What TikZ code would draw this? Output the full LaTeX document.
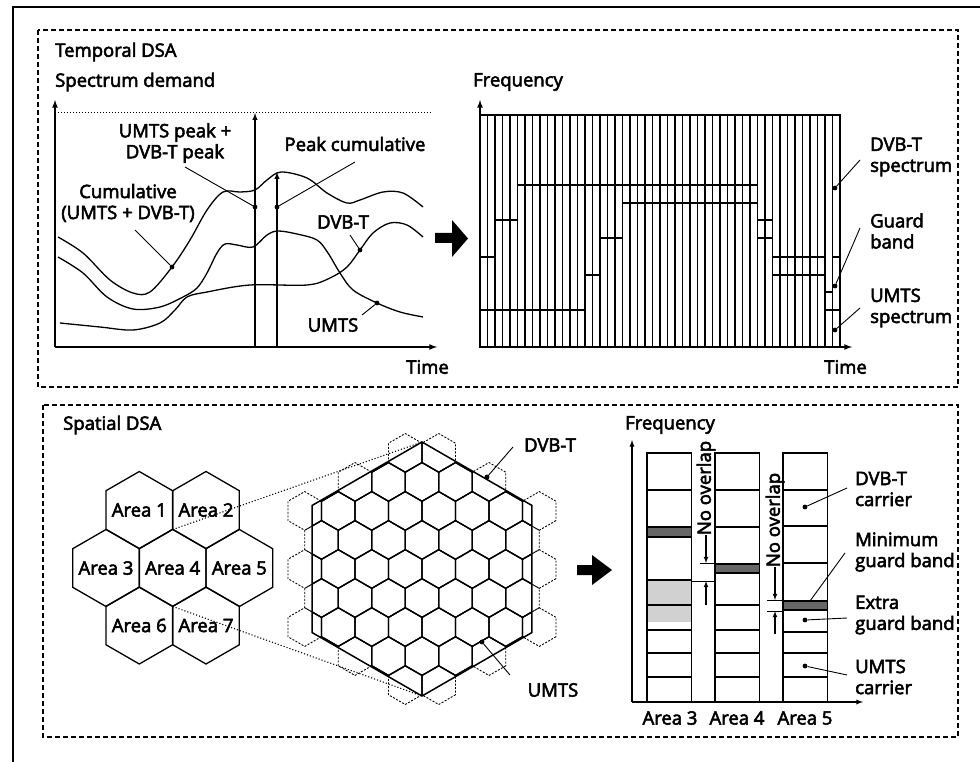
\documentclass[tikz,border=0pt]{standalone}
\usepackage{fontspec}
\setmainfont{Open Sans}[FakeBold=3]
\tikzset{
  lbl/.style={font=\fontsize{18.5}{21}\selectfont, inner sep=0pt},
  lbltwo/.style={lbl, align=left},
  dotnode/.style={circle, fill, inner sep=1.7pt},
  axis/.style={->, line width=1.6pt},
  crv/.style={line width=1.3pt},
  lead/.style={line width=0.9pt},
  panel/.style={line width=1.1pt, dash pattern=on 5pt off 3pt},
  stripe/.style={line width=1.2pt},
  cellout/.style={line width=0.9pt, dash pattern=on 2pt off 1.5pt},
  cellin/.style={line width=1.3pt},
  hexcell/.pic={\draw[pic actions] (30:#1) -- (90:#1) -- (150:#1) -- (210:#1) -- (270:#1) -- (330:#1) -- cycle;}
}
\begin{document}
\begin{tikzpicture}[x=1pt, y=-1pt, >=latex]
\useasboundingbox (0,0) rectangle (980,762);
\draw[line width=1.3pt] (13,762) -- (13,7) -- (980,7);
\draw[panel] (38,30) rectangle (958,387);
\draw[panel] (43,405) rectangle (958,737);

% temporal DSA, demand curves
\node[lbl, anchor=west] (tdsa) at (55,52) {Temporal DSA};
\node[lbl, anchor=west] (dem) at (55,82) {Spectrum demand};
\coordinate (o1) at (55,347);
\coordinate (o1y) at (55,100);
\coordinate (o1x) at (437,347);
\draw[axis] (o1) -- (o1y);
\draw[axis] (o1) -- (o1x);
\node[lbl, anchor=east] (t1) at (449,367) {Time};
\draw[dotted, line width=1pt] (55,113) -- (432,113);
\draw[crv] plot[smooth, tension=0.55] coordinates {(58,237) (83,253) (110,280) (133,293) (150,292) (172,267) (190,240) (207,210) (223,192) (240,192) (255,190) (267,180) (281,172) (307,178) (327,193) (347,203) (360,200) (383,192) (403,193) (423,207)};
\draw[crv] plot[smooth, tension=0.55] coordinates {(58,257) (83,273) (107,297) (133,309) (160,307) (183,297) (197,288) (207,273) (217,253) (225,244) (237,245) (253,247) (267,235) (278,231) (297,234) (317,240) (328,253) (340,273) (353,290) (377,303) (400,312) (423,317)};
\draw[crv] plot[smooth, tension=0.55] coordinates {(60,323) (100,327) (133,330) (160,323) (175,310) (187,297) (207,292) (250,285) (307,285) (330,278) (347,267) (360,250) (373,233) (390,223) (407,225) (423,237)};
\coordinate (b1) at (255,347);
\coordinate (p1) at (255,113);
\coordinate (b2) at (277,347);
\coordinate (p2) at (277,172);
\draw[axis, line width=1.4pt] (b1) -- (p1);
\draw[axis, line width=1.4pt] (b2) -- (p2);
\node[lbltwo, align=center] (upk) at (175,143) {UMTS peak +\\DVB-T peak};
\node[lbl] (pkc) at (355,144) {Peak cumulative};
\node[lbltwo, align=center] (cum) at (128,203) {Cumulative\\(UMTS + DVB-T)};
\node[lbl] (dvbl) at (343,222) {DVB-T};
\node[lbl] (umtsl) at (333,325) {UMTS};
\node[dotnode] (dcum) at (172,267) {};
\node[dotnode] (dupk) at (255,207) {};
\node[dotnode] (dpkc) at (277,207) {};
\node[dotnode] (ddvb) at (360,250) {};
\node[dotnode] (dumts) at (377,303) {};
\coordinate (lcum) at (135,230);
\coordinate (lupk) at (185,167);
\coordinate (lpkc) at (355,162);
\coordinate (ldvb) at (350,235);
\coordinate (lumts) at (362,315);
\draw[lead] (lcum) -- (dcum);
\draw[lead] (lupk) -- (dupk);
\draw[lead] (lpkc) -- (dpkc);
\draw[lead] (ldvb) -- (ddvb);
\draw[lead] (lumts) -- (dumts);

\fill (435,233) -- (452,233) -- (452,220) -- (468,238.5) -- (452,257) -- (452,243) -- (435,243) -- cycle;

% spectrum over time
\node[lbl, anchor=west] (freq1) at (473,82) {Frequency};
\coordinate (o2) at (480,347);
\coordinate (o2y) at (480,100);
\coordinate (o2x) at (852,347);
\draw[axis] (o2) -- (o2y);
\draw[axis] (o2) -- (o2x);
\node[lbl, anchor=east] (t2) at (867,367) {Time};
\draw[line width=1.5pt] (480,115) rectangle (840,347);
\foreach \i in {1,...,47}
  \draw[stripe] ({480+7.5*\i},115) -- ({480+7.5*\i},347);
\foreach \xa/\xb/\y in {517.5/757.5/185, 622.5/757.5/203, 495/517.5/220, 757.5/772.5/220, 600/622.5/238, 757.5/772.5/238, 480/495/257, 772.5/825/257, 832.5/840/257, 585/600/275, 772.5/825/275, 825/832.5/292, 480/585/310, 825/840/310}
  \draw[line width=1.5pt] (\xa,\y) -- (\xb,\y);
\node[lbltwo, anchor=west] (spd) at (870,157) {DVB-T\\spectrum};
\node[lbltwo, anchor=west] (gb) at (870,231) {Guard\\band};
\node[lbltwo, anchor=west] (spu) at (870,308) {UMTS\\spectrum};
\node[dotnode] (dspd) at (835,188) {};
\node[dotnode] (dgb) at (835,286) {};
\node[dotnode] (dspu) at (835,330) {};
\coordinate (lspd) at (860,160);
\coordinate (lgb) at (860,228);
\coordinate (lspu) at (860,308);
\draw[lead] (lspd) -- (dspd);
\draw[lead] (lgb) -- (dgb);
\draw[lead] (lspu) -- (dspu);

% spatial DSA
\node[lbl, anchor=west] (sdsa) at (63,425) {Spatial DSA};
\foreach \x/\y/\n in {139.3/510/1, 206/510/2, 106/568/3, 172.7/568/4, 239.4/568/5, 139.3/625.5/6, 206/625.5/7}
{
  \pic[cellin] at (\x,\y) {hexcell=38.5};
  \node[lbl] (a\n) at (\x,\y) {Area \n};
}
\foreach \k in {-5,...,5}
  \foreach \j in {-5,...,5}
  {
    \pgfmathsetmacro\cx{422+(\j+0.5*(1-mod(abs(\k),2)))*33.5}
    \pgfmathsetmacro\cy{569+29.03*\k}
    \pgfmathtruncatemacro\inside{and(abs(\cx-422)<=121.5, abs(\cx-422)/1.732+abs(\cy-569)<=140)}
    \ifnum\inside=1
      \pic[cellout] at (\cx,\cy) {hexcell=19.35};
    \fi
  }
\begin{scope}
  \clip[shift={(422,569)}] (30:127) -- (90:127) -- (150:127) -- (210:127) -- (270:127) -- (330:127) -- cycle;
  \foreach \k in {-5,...,5}
    \foreach \j in {-5,...,5}
    {
      \pgfmathsetmacro\cx{422+(\j+0.5*(1-mod(abs(\k),2)))*33.5}
      \pgfmathsetmacro\cy{569+29.03*\k}
      \pic[cellin] at (\cx,\cy) {hexcell=19.35};
    }
\end{scope}
\pic[line width=1.5pt] at (422,569) {hexcell=127};
\coordinate (a4t) at (172.7,529.5);
\coordinate (a4b) at (172.7,606.5);
\coordinate (bigt) at (422,442);
\coordinate (bigb) at (422,696);
\draw[dotted, line width=1.1pt] (a4t) -- (bigt);
\draw[dotted, line width=1.1pt] (a4b) -- (bigb);
\node[lbl] (dvbh) at (550,445) {DVB-T};
\node[lbl] (umh) at (553,690) {UMTS};
\node[dotnode] (ddvbh) at (487,477) {};
\node[dotnode] (dumh) at (482,642) {};
\coordinate (ldvbh) at (513,447);
\coordinate (lumh) at (510,675);
\draw[lead] (ldvbh) -- (ddvbh);
\draw[lead] (lumh) -- (dumh);

\fill (577,565) -- (592,565) -- (592,555) -- (612,570) -- (592,585) -- (592,575) -- (577,575) -- cycle;

% carriers per area
\node[lbl, anchor=west] (freq2) at (625,425) {Frequency};
\coordinate (o3) at (632,702);
\coordinate (o3y) at (632,440);
\coordinate (o3x) at (863,702);
\draw[axis, line width=1.3pt] (o3) -- (o3y);
\draw[axis, line width=1.3pt] (o3) -- (o3x);
\fill[black!18] (647,580) rectangle (692,622);
\fill[black!60] (647,527) rectangle (692,537);
\fill[black!60] (715,564) rectangle (760,573);
\fill[black!60] (783,601) rectangle (827,610);
\foreach \x in {647,715,783}
  \draw[line width=1.4pt] (\x,453) rectangle +(44.5,249);
\foreach \y in {490,527,537,580,605,630,653,677}
  \draw[line width=1.2pt] (647,\y) -- (691.5,\y);
\foreach \y in {490,527,564,573,605,630,653,677}
  \draw[line width=1.2pt] (715,\y) -- (759.5,\y);
\foreach \y in {490,526,563,601,610,632,653,677}
  \draw[line width=1.2pt] (783,\y) -- (827.5,\y);
\node[lbl] (ar3) at (670,718) {Area 3};
\node[lbl] (ar4) at (737,718) {Area 4};
\node[lbl] (ar5) at (805,718) {Area 5};
\node[lbl, rotate=90] (no1) at (706,488) {No overlap};
\node[lbl, rotate=90] (no2) at (775,520) {No overlap};
\coordinate (n1d) at (706,563);
\coordinate (n1u) at (706,581);
\coordinate (n1b) at (706,605);
\coordinate (n2d) at (775,600);
\coordinate (n2u) at (775,611);
\coordinate (n2b) at (775,634);
\draw[->, line width=1.1pt] (no1.west) -- (n1d);
\draw[->, line width=1.1pt] (n1b) -- (n1u);
\draw[->, line width=1.1pt] (no2.west) -- (n2d);
\draw[->, line width=1.1pt] (n2b) -- (n2u);
\draw[line width=1pt] (700,563) -- (715,563);
\draw[line width=1pt] (692,581) -- (715,581);
\draw[line width=1pt] (767,600) -- (783,600);
\draw[line width=1pt] (767,611) -- (783,611);
\node[lbltwo, anchor=west] (car) at (855,489) {DVB-T\\carrier};
\node[lbltwo, anchor=west] (mgb) at (855,552) {Minimum\\guard band};
\node[lbltwo, anchor=west] (egb) at (855,615) {Extra\\guard band};
\node[lbltwo, anchor=west] (umc) at (855,677) {UMTS\\carrier};
\node[dotnode] (dcar) at (805,507) {};
\node[dotnode] (degb) at (805,620) {};
\node[dotnode] (dumc) at (805,666) {};
\coordinate (dmgb) at (810,601);
\coordinate (lcar) at (847,488);
\coordinate (lmgb) at (845,553);
\coordinate (legb) at (847,618);
\coordinate (lumc) at (847,675);
\draw[lead] (lcar) -- (dcar);
\draw[lead] (lmgb) -- (dmgb);
\draw[lead] (legb) -- (degb);
\draw[lead] (lumc) -- (dumc);
\end{tikzpicture}
\end{document}
